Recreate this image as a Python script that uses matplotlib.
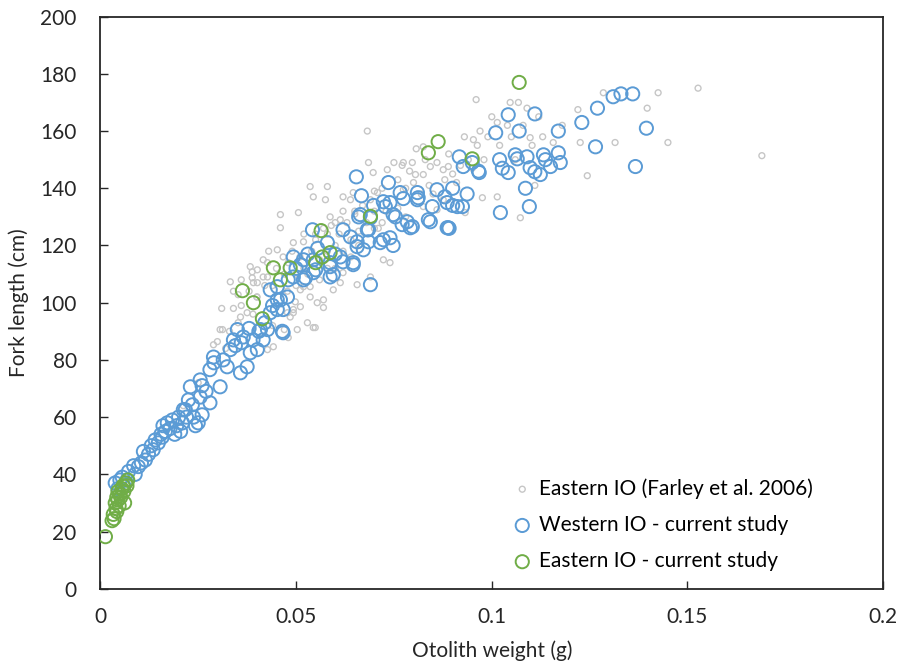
import matplotlib.pyplot as plt

# Eastern IO reference data (Farley et al. 2006): otolith weight (g), fork length (cm)
farley_x = [
    0.0212, 0.0250, 0.0289, 0.0299, 0.0306, 0.0312, 0.0320, 0.0332, 0.0352, 0.0352,
    0.0358, 0.0375, 0.0360, 0.0383, 0.0388, 0.0388, 0.0391, 0.0401, 0.0401, 0.0416,
    0.0416, 0.0427, 0.0427, 0.0427, 0.0442, 0.0452, 0.0460, 0.0460, 0.0467, 0.0470,
    0.0478, 0.0478, 0.0480, 0.0485, 0.0493, 0.0493, 0.0493, 0.0498, 0.0503, 0.0506,
    0.0511, 0.0511, 0.0519, 0.0519, 0.0529, 0.0536, 0.0536, 0.0536, 0.0544, 0.0544,
    0.0549, 0.0554, 0.0570, 0.0570, 0.0575, 0.0580, 0.0587, 0.0595, 0.0613, 0.0613,
    0.0620, 0.0620, 0.0639, 0.0646, 0.0656, 0.0682, 0.0685, 0.0690, 0.0697, 0.0708,
    0.0723, 0.0733, 0.0740, 0.0750, 0.0771, 0.0774, 0.0774, 0.0797, 0.0805, 0.0807,
    0.0825, 0.0825, 0.0825, 0.0843, 0.0860, 0.0860, 0.0876, 0.0876, 0.0889, 0.0932,
    0.0953, 0.0960, 0.0963, 0.0976, 0.1014, 0.1014, 0.1047, 0.1068, 0.1073, 0.1098,
    0.1103, 0.1110, 0.1157, 0.1220, 0.1226, 0.1244, 0.1285, 0.1315, 0.1397, 0.1425,
    0.1450, 0.1527, 0.1690, 0.0500, 0.0520, 0.0540, 0.0560, 0.0580, 0.0600, 0.0620,
    0.0640, 0.0660, 0.0680, 0.0700, 0.0720, 0.0760, 0.0780, 0.0800, 0.0820, 0.0840,
    0.0880, 0.0900, 0.0920, 0.0940, 0.0970, 0.0990, 0.1000, 0.1040, 0.1080, 0.1120,
    0.0550, 0.0600, 0.0650, 0.0700, 0.0400, 0.0440, 0.0340, 0.0620, 0.0700, 0.0580,
    0.0340, 0.0360, 0.0380, 0.0400, 0.0420, 0.0430, 0.0450, 0.0470, 0.0480, 0.0490,
    0.0500, 0.0510, 0.0520, 0.0530, 0.0550, 0.0560, 0.0570, 0.0580, 0.0590, 0.0600,
    0.0610, 0.0630, 0.0640, 0.0650, 0.0660, 0.0670, 0.0690, 0.0710, 0.0720, 0.0730,
    0.0760, 0.0780, 0.0790, 0.0830, 0.0850, 0.0890, 0.0910, 0.0930, 0.0950, 0.0980,
    0.1020, 0.1050, 0.1060, 0.1090, 0.1130, 0.1180, 0.0310, 0.0330, 0.0390, 0.0440,
]
farley_y = [
    64.0, 72.0, 85.3, 86.4, 90.6, 90.6, 84.0, 107.3, 102.8, 93.0,
    95.0, 96.5, 99.0, 112.6, 108.7, 110.8, 107.0, 107.0, 111.5, 109.0,
    115.0, 114.0, 109.0, 83.6, 84.6, 118.5, 130.8, 126.2, 116.0, 90.6,
    104.0, 96.5, 87.8, 95.0, 97.6, 96.5, 121.0, 100.3, 90.6, 131.5,
    104.5, 98.6, 105.6, 121.3, 93.0, 102.0, 105.6, 140.6, 91.3, 137.0,
    91.3, 100.0, 101.0, 98.3, 136.0, 140.6, 130.0, 104.5, 107.0, 129.0,
    110.5, 137.0, 136.0, 138.5, 106.3, 160.0, 149.0, 109.0, 145.5, 138.5,
    115.0, 146.5, 114.0, 149.0, 148.0, 149.0, 139.5, 149.0, 144.8, 153.8,
    154.5, 144.8, 133.6, 147.6, 149.0, 132.5, 136.0, 146.5, 147.6, 131.5,
    157.0, 171.0, 155.0, 136.7, 163.0, 137.0, 170.0, 170.0, 129.7, 157.7,
    155.0, 141.0, 156.0, 167.5, 156.0, 144.4, 173.4, 156.0, 168.0, 173.4,
    156.0, 175.0, 151.4, 110.0, 112.0, 118.0, 115.0, 112.0, 120.0, 118.0,
    122.0, 125.0, 128.0, 132.0, 128.0, 133.0, 140.0, 142.0, 138.0, 141.0,
    143.0, 145.0, 148.0, 150.0, 160.0, 158.0, 165.0, 162.0, 162.0, 165.0,
    124.0, 128.0, 131.0, 126.0, 102.0, 106.0, 98.0, 132.0, 139.0, 124.0,
    104.0, 108.0, 104.0, 102.0, 106.0, 118.0, 112.0, 110.0, 114.0, 118.0,
    106.0, 116.0, 124.0, 110.0, 122.0, 108.0, 126.0, 118.0, 127.0, 112.0,
    124.0, 128.0, 116.0, 132.0, 120.0, 134.0, 136.0, 126.0, 140.0, 132.0,
    143.0, 130.0, 146.0, 150.0, 138.0, 152.0, 142.0, 158.0, 147.0, 150.0,
    155.0, 158.0, 150.0, 168.0, 158.0, 162.0, 98.0, 90.0, 96.0, 92.0,
]

# Western IO, current study
west_x = [
    0.0038, 0.0045, 0.0050, 0.0056, 0.0060, 0.0072, 0.0068, 0.0089, 0.0085, 0.0097,
    0.0105, 0.0115, 0.0110, 0.0123, 0.0130, 0.0135, 0.0140, 0.0148, 0.0155, 0.0158,
    0.0166, 0.0160, 0.0171, 0.0178, 0.0184, 0.0190, 0.0200, 0.0195, 0.0205, 0.0210,
    0.0212, 0.0217, 0.0220, 0.0225, 0.0230, 0.0235, 0.0238, 0.0243, 0.0250, 0.0260,
    0.0255, 0.0255, 0.0260, 0.0270, 0.0280, 0.0280, 0.0289, 0.0290, 0.0306, 0.0314,
    0.0324, 0.0332, 0.0340, 0.0350, 0.0345, 0.0358, 0.0360, 0.0365, 0.0375, 0.0383,
    0.0380, 0.0390, 0.0401, 0.0405, 0.0409, 0.0416, 0.0420, 0.0427, 0.0434, 0.0434,
    0.0440, 0.0452, 0.0452, 0.0452, 0.0460, 0.0465, 0.0467, 0.0467, 0.0478, 0.0480,
    0.0493, 0.0493, 0.0500, 0.0511, 0.0519, 0.0519, 0.0524, 0.0530, 0.0542, 0.0544,
    0.0544, 0.0550, 0.0555, 0.0587, 0.0587, 0.0587, 0.0595, 0.0580, 0.0600, 0.0620,
    0.0613, 0.0620, 0.0639, 0.0646, 0.0646, 0.0656, 0.0656, 0.0654, 0.0667, 0.0664,
    0.0660, 0.0672, 0.0682, 0.0685, 0.0685, 0.0690, 0.0690, 0.0698, 0.0715, 0.0723,
    0.0723, 0.0728, 0.0736, 0.0740, 0.0740, 0.0748, 0.0748, 0.0754, 0.0766, 0.0771,
    0.0774, 0.0784, 0.0792, 0.0797, 0.0810, 0.0810, 0.0812, 0.0838, 0.0843, 0.0848,
    0.0860, 0.0886, 0.0886, 0.0889, 0.0900, 0.0891, 0.0912, 0.0917, 0.0927, 0.0937,
    0.0950, 0.0966, 0.0968, 0.1010, 0.1020, 0.1027, 0.1022, 0.1042, 0.1042, 0.1060,
    0.1065, 0.1070, 0.1086, 0.1090, 0.1096, 0.1098, 0.1110, 0.1110, 0.1124, 0.1132,
    0.1137, 0.1150, 0.1170, 0.1170, 0.1175, 0.1230, 0.1265, 0.1270, 0.1310, 0.1330,
    0.1360, 0.1367, 0.1395, 0.0900, 0.0880, 0.0925,
]
west_y = [
    37.0, 35.0, 38.0, 39.0, 36.0, 41.0, 38.0, 40.0, 43.0, 42.7,
    44.0, 45.0, 48.0, 47.0, 50.0, 48.6, 52.0, 51.0, 54.0, 53.0,
    55.0, 57.0, 58.0, 56.0, 59.0, 54.0, 60.0, 57.0, 55.0, 58.0,
    62.6, 62.6, 60.0, 66.0, 70.6, 64.3, 60.0, 57.0, 58.0, 60.8,
    67.0, 73.0, 71.0, 69.0, 65.0, 76.6, 81.0, 79.0, 70.6, 80.0,
    77.6, 83.6, 87.0, 90.6, 85.0, 75.5, 86.0, 88.0, 77.6, 82.5,
    91.0, 87.0, 83.6, 90.0, 90.6, 87.0, 93.0, 90.6, 96.5, 104.5,
    99.0, 97.6, 101.0, 105.6, 101.0, 90.0, 89.5, 97.6, 102.0, 108.0,
    109.0, 116.0, 112.0, 113.3, 108.0, 115.0, 108.7, 117.0, 125.5, 110.5,
    115.0, 111.5, 119.0, 112.6, 109.0, 114.0, 109.8, 121.0, 117.0, 114.3,
    116.0, 125.5, 123.0, 113.3, 114.0, 121.3, 119.6, 144.0, 137.4, 130.8,
    130.0, 118.5, 125.5, 121.3, 125.5, 106.3, 129.7, 134.0, 121.0, 122.0,
    135.3, 133.6, 142.0, 122.7, 135.0, 120.0, 130.8, 130.0, 138.5, 127.3,
    136.4, 128.3, 126.2, 126.6, 138.5, 136.0, 136.7, 129.0, 128.3, 133.6,
    139.5, 126.2, 135.0, 126.2, 140.0, 126.0, 133.6, 151.0, 147.6, 138.0,
    149.0, 146.0, 145.5, 159.4, 150.0, 147.0, 131.5, 165.7, 145.5, 151.7,
    150.3, 160.0, 140.0, 151.0, 133.6, 147.2, 166.0, 145.8, 144.8, 151.7,
    150.0, 147.6, 152.4, 160.0, 149.0, 163.0, 154.5, 168.0, 172.0, 173.0,
    173.0, 147.6, 161.0, 134.0, 137.0, 133.6,
]

# Eastern IO, current study
east_x = [
    0.0013, 0.0030, 0.0035, 0.0033, 0.0040, 0.0038, 0.0042, 0.0045, 0.0048, 0.0050,
    0.0045, 0.0052, 0.0055, 0.0060, 0.0058, 0.0065, 0.0070, 0.0062, 0.0042, 0.0068,
    0.0363, 0.0391, 0.0414, 0.0442, 0.0460, 0.0485, 0.0550, 0.0567, 0.0564, 0.0587,
    0.0690, 0.0838, 0.0863, 0.0950, 0.1070,
]
east_y = [
    18.2, 23.8, 24.5, 26.0, 28.0, 30.0, 27.0, 31.0, 29.0, 33.0,
    34.0, 32.0, 35.0, 34.0, 36.0, 37.0, 38.0, 30.0, 32.0, 36.0,
    104.2, 100.0, 94.4, 112.2, 108.0, 112.2, 114.0, 116.0, 125.2, 117.5,
    130.2, 152.4, 156.3, 150.3, 177.0,
]

x_ticks = [0, 0.05, 0.1, 0.15, 0.2]
x_tick_labels = ["0", "0.05", "0.1", "0.15", "0.2"]
y_ticks = [0, 20, 40, 60, 80, 100, 120, 140, 160, 180, 200]

plt.rcParams["font.family"] = ["Lato", "DejaVu Sans"]
text_color = "#262626"
fs = 15

fig = plt.figure(figsize=(9.04, 6.66), dpi=100)
ax = fig.add_axes([0.111, 0.116, 0.866, 0.859])

ax.scatter(farley_x, farley_y, s=18, facecolors="none", edgecolors="#c6c6c6",
           linewidths=1.0, label="Eastern IO (Farley et al. 2006)", zorder=2)
ax.scatter(west_x, west_y, s=90, facecolors="none", edgecolors="#5b9bd5",
           linewidths=1.4, label="Western IO - current study", zorder=3)
ax.scatter(east_x, east_y, s=90, facecolors="none", edgecolors="#70ad47",
           linewidths=1.4, label="Eastern IO - current study", zorder=4)

ax.set_xlim(0, 0.2)
ax.set_ylim(0, 200)
ax.set_xticks(x_ticks)
ax.set_xticklabels(x_tick_labels)
ax.set_yticks(y_ticks)
ax.tick_params(direction="in", length=6, width=1.0, labelsize=fs,
               colors=text_color)
ax.tick_params(axis="y", pad=17)
ax.tick_params(axis="x", pad=13)
for side in ax.spines.values():
    side.set_linewidth(1.3)
    side.set_color(text_color)

ax.set_xlabel("Otolith weight (g)", fontsize=fs, color=text_color, labelpad=10)
ax.set_ylabel("Fork length (cm)", fontsize=fs, color=text_color, labelpad=8)

ax.legend(loc="upper left", bbox_to_anchor=(0.515, 0.208), frameon=False,
          fontsize=fs, labelspacing=0.78, handletextpad=0.3,
          handlelength=1.0, borderaxespad=0.0)

fig.savefig("out.png", dpi=100)
plt.close(fig)
